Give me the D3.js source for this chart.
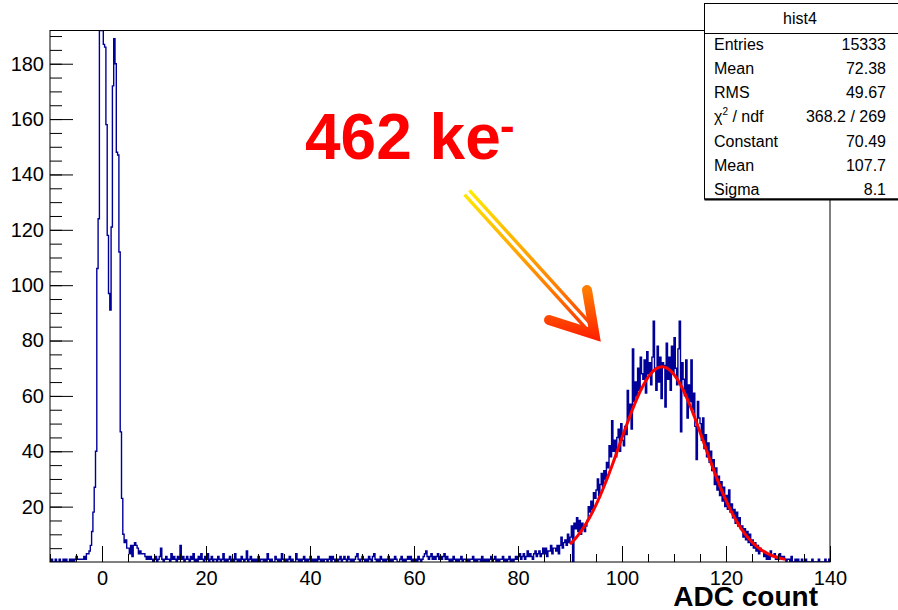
<!DOCTYPE html>
<html>
<head>
<meta charset="utf-8">
<script src="https://cdn.jsdelivr.net/npm/d3@7"></script>
<style>
  body { margin: 0; background: #fff; }
  svg { display: block; font-family: "Liberation Sans", Arial, Helvetica, sans-serif; }
</style>
</head>
<body>
<svg id="chart" width="898" height="610"></svg>
<script>
// histogram binning (0.25 ADC per bin, starting at -10)
const binStart = -10;
const binWidth = 0.25;

// counts, 4 bins per ADC unit
const leftCounts = [            // -10 .. -3
    0,1,0,0, 1,0,0,1, 0,0,1,0, 1,0,0,1, 0,1,0,1, 2,1,1,1, 1,1,2,1
];
const pedestalCounts = [        // -3 .. 5
    3,3,4,6, 11,18,27,40, 106,124,230,260, 240,187,186,158,
    118,97,91,121, 172,189,180,148, 147,112,47,23, 10,7,8,5
];
const floorCounts = [           // 5 .. 85
    5,3,6,2, 6,7,6,5, 3,4,3,3, 3,2,1,2, 1,2,1,0, 1,2,0,1, 2,5,1,0, 1,2,1,1,
    0,3,1,2, 1,0,2,1, 6,1,2,0, 1,2,1,0, 2,1,3,0, 1,0,2,1, 3,1,0,2, 1,3,0,1,
    2,0,1,1, 0,2,1,0, 1,3,0,1, 0,1,2,0, 1,0,3,1, 0,1,0,2, 1,0,1,4, 0,1,2,0,
    1,0,1,0, 2,0,1,1, 0,1,0,3, 1,0,1,0, 0,2,1,0, 1,0,3,1, 0,1,0,1, 2,0,1,0,
    0,3,1,0, 1,0,1,2, 0,1,0,1, 2,0,1,0, 1,0,2,1, 0,1,0,1, 1,0,1,2, 0,2,1,0,
    1,0,1,2, 0,1,2,1, 0,2,1,0, 1,0,1,2, 3,1,0,1, 2,1,0,1, 0,2,1,0, 2,3,1,0,
    1,0,2,1, 0,1,0,1, 2,0,1,0, 1,2,1,0, 0,1,2,0, 1,0,1,2, 1,2,0,1, 0,1,0,2,
    1,0,1,2, 3,4,2,1, 2,3,1,2, 1,2,3,1, 2,1,2,3, 1,2,1,0, 1,0,2,1, 0,1,0,1,
    2,0,1,1, 0,1,0,1, 1,2,0,1, 0,1,1,0, 2,0,1,0, 1,0,1,2, 0,1,2,0, 1,0,1,1,
    2,0,1,0, 1,2,0,1, 0,1,2,1, 2,3,1,2, 3,1,2,4, 2,3,2,1, 3,4,2,3, 4,2,3,5
];
const peakCounts = [            // 85 .. 135
    3,5,2,4, 4,6,3,5, 5,4,6,3, 6,9,5,7, 8,6,10,7,
    9,13,0,14, 12,16,11,15, 10,14,12,11, 13,15,20,18, 22,19,25,23,
    26,30,24,28, 32,27,33,30, 36,34,42,38, 51,40,44,38, 45,48,40,50,
    44,42,49,46, 62,52,57,48, 77,58,65,60, 70,62,74,68, 66,73,61,76,
    68,72,64,74, 87,70,62,78, 65,74,59,72, 71,56,79,66, 74,62,78,68,
    81,70,64,77, 87,47,72,66, 60,73,52,64, 58,73,55,61, 49,37,58,52,
    50,44,52,41, 46,38,43,36, 40,33,37,28, 34,26,31,24, 29,22,27,20,
    24,19,26,18, 21,16,19,14, 18,13,16,12, 13,9,12,8, 11,7,10,6,
    8,5,7,4, 6,3,5,4, 4,2,3,1, 3,1,4,2, 2,3,1,2,
    1,3,2,1, 2,1,0,1, 1,0,2,0, 0,1,0,1, 0,0,1,0
];
const tailCounts = [            // 135 .. 140
    0,1,0,0, 0,0,1,0, 0,0,0,1, 0,0,0,0, 1,0,0,1
];

const xTicks = [0, 20, 40, 60, 80, 100, 120, 140];
const yTicks = [20, 40, 60, 80, 100, 120, 140, 160, 180];

// gaussian fit shown in the stats box
const fitConstant = 70.49;
const fitMean = 107.7;
const fitSigma = 8.1;
const fitRange = [90, 131.5];

const statsTitle = 'hist4';
const statsLabels = ['Entries', 'Mean', 'RMS', 'chi2', 'Constant', 'Mean', 'Sigma'];
const statsValues = ['15333', '72.38', '49.67', '368.2 / 269', '70.49', '107.7', '8.1'];

const svg = d3.select('#chart');

const frame = {left: 50, right: 830, top: 30.5, bottom: 562};

const x = d3.scaleLinear().domain([-10, 140]).range([frame.left, frame.right]);
const y = d3.scaleLinear().domain([0, 192]).range([frame.bottom, frame.top]);

svg.append('clipPath').attr('id', 'frame-clip')
    .append('rect')
    .attr('x', frame.left).attr('y', frame.top)
    .attr('width', frame.right - frame.left)
    .attr('height', frame.bottom - frame.top);

// histogram as a step line
const counts = [].concat(leftCounts, pedestalCounts, floorCounts, peakCounts, tailCounts);
const yMax = y.domain()[1];
const steps = counts.map((c, i) => [binStart + i * binWidth, Math.min(c, yMax)]);
steps.push([binStart + counts.length * binWidth, 0]);

const stepLine = d3.line()
    .x(d => x(d[0]))
    .y(d => y(d[1]))
    .curve(d3.curveStepAfter);

svg.append('path')
    .datum([[binStart, 0]].concat(steps))
    .attr('d', stepLine)
    .attr('fill', 'none')
    .attr('stroke', '#000099')
    .attr('stroke-width', 1.4)
    .attr('clip-path', 'url(#frame-clip)');

// fit curve
const fitPoints = d3.range(fitRange[0], fitRange[1] + 0.01, 0.25).map(v =>
    [v, fitConstant * Math.exp(-0.5 * Math.pow((v - fitMean) / fitSigma, 2))]);

svg.append('path')
    .datum(fitPoints)
    .attr('d', d3.line().x(d => x(d[0])).y(d => y(d[1])).curve(d3.curveMonotoneX))
    .attr('fill', 'none')
    .attr('stroke', '#ff0000')
    .attr('stroke-width', 3);

// frame
svg.append('rect')
    .attr('x', frame.left).attr('y', frame.top)
    .attr('width', frame.right - frame.left)
    .attr('height', frame.bottom - frame.top)
    .attr('fill', 'none')
    .attr('stroke', '#000')
    .attr('stroke-width', 1);

// y axis, ticks pointing inward
const yMinor = d3.range(5, 191, 5);
svg.append('g')
    .attr('transform', `translate(${frame.left},0)`)
    .call(d3.axisLeft(y).tickValues(yMinor).tickSize(-12).tickFormat(''))
    .call(g => g.select('.domain').remove());

svg.append('g')
    .attr('transform', `translate(${frame.left},0)`)
    .call(d3.axisLeft(y).tickValues(yTicks).tickSize(-23).tickPadding(6))
    .call(g => g.select('.domain').remove())
    .selectAll('text')
    .style('font-size', '20px')
    .style('fill', '#000');

// x axis
const xMinor = d3.range(-10, 141, 5);
svg.append('g')
    .attr('transform', `translate(0,${frame.bottom})`)
    .call(d3.axisBottom(x).tickValues(xMinor).tickSize(-8).tickFormat(''))
    .call(g => g.select('.domain').remove());

svg.append('g')
    .attr('transform', `translate(0,${frame.bottom})`)
    .call(d3.axisBottom(x).tickValues(xTicks).tickSize(-16).tickPadding(9))
    .call(g => g.select('.domain').remove())
    .selectAll('text')
    .style('font-size', '20px')
    .style('fill', '#000');

svg.selectAll('.tick line').attr('stroke', '#000');

svg.append('text')
    .attr('x', 818)
    .attr('y', 606)
    .attr('text-anchor', 'end')
    .style('font-size', '28px')
    .style('font-weight', 'bold')
    .text('ADC count');

// annotation
svg.append('text')
    .attr('x', 305)
    .attr('y', 159)
    .style('font-size', '64px')
    .style('font-weight', 'bold')
    .style('fill', '#ff0000')
    .text('462 ke');

svg.append('text')
    .attr('x', 500)
    .attr('y', 141)
    .style('font-size', '44px')
    .style('font-weight', 'bold')
    .style('fill', '#ff0000')
    .text('-');

const grad = svg.append('defs').append('linearGradient')
    .attr('id', 'arrow-grad')
    .attr('gradientUnits', 'userSpaceOnUse')
    .attr('x1', 0).attr('y1', 188).attr('x2', 0).attr('y2', 345);
grad.append('stop').attr('offset', 0).attr('stop-color', '#ffee00');
grad.append('stop').attr('offset', 0.35).attr('stop-color', '#ffb000');
grad.append('stop').attr('offset', 0.65).attr('stop-color', '#ff7a00');
grad.append('stop').attr('offset', 1).attr('stop-color', '#ff1500');

// double shaft
const shaftStart = [467, 192.5];
const shaftEnd = [590, 328];
const dx = shaftEnd[0] - shaftStart[0], dy = shaftEnd[1] - shaftStart[1];
const len = Math.hypot(dx, dy);
const nx = -dy / len, ny = dx / len;
[-3.3, 3.3].forEach(off => {
    svg.append('line')
        .attr('x1', shaftStart[0] + nx * off).attr('y1', shaftStart[1] + ny * off)
        .attr('x2', shaftEnd[0] + nx * off).attr('y2', shaftEnd[1] + ny * off)
        .attr('stroke', 'url(#arrow-grad)')
        .attr('stroke-width', 3.4);
});

svg.append('path')
    .attr('d', 'M587,290 L594.5,334.5 L549,320')
    .attr('fill', 'none')
    .attr('stroke', 'url(#arrow-grad)')
    .attr('stroke-width', 10)
    .attr('stroke-linecap', 'round')
    .attr('stroke-linejoin', 'miter')
    .attr('stroke-miterlimit', 10);

// stats box (right edge runs off the canvas)
const box = svg.append('g');
box.append('rect')
    .attr('x', 704.5).attr('y', 3.5)
    .attr('width', 200).attr('height', 195.5)
    .attr('fill', '#fff')
    .attr('stroke', '#000')
    .attr('stroke-width', 1);
box.append('line')
    .attr('x1', 704.5).attr('x2', 898)
    .attr('y1', 199.5).attr('y2', 199.5)
    .attr('stroke', '#000').attr('stroke-width', 2);
box.append('line')
    .attr('x1', 704.5).attr('x2', 898)
    .attr('y1', 33.5).attr('y2', 33.5)
    .attr('stroke', '#000').attr('stroke-width', 1);

box.append('text')
    .attr('x', 800).attr('y', 24)
    .attr('text-anchor', 'middle')
    .style('font-size', '16px')
    .text(statsTitle);

statsLabels.forEach((label, i) => {
    const cy = 44 + i * 24.3;
    const t = box.append('text')
        .attr('x', 714).attr('y', cy + 5.5)
        .style('font-size', '16px');
    if (label === 'chi2') {
        t.append('tspan').text('χ');
        t.append('tspan').attr('dy', -7).style('font-size', '10px').text('2');
        t.append('tspan').attr('dy', 7).text(' / ndf');
    } else {
        t.text(label);
    }
    box.append('text')
        .attr('x', 886).attr('y', cy + 5.5)
        .attr('text-anchor', 'end')
        .style('font-size', '16px')
        .text(statsValues[i]);
});
</script>
</body>
</html>
